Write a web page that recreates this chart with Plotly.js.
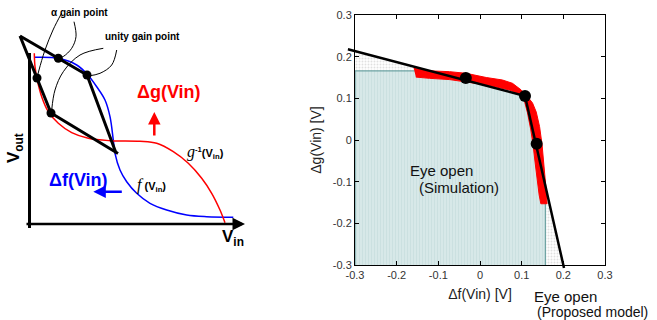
<!DOCTYPE html>
<html><head><meta charset="utf-8">
<script src="https://cdn.plot.ly/plotly-3.0.1.min.js"></script>
<style>html,body{margin:0;padding:0;background:#fff;}#chart{width:657px;height:320px;}</style>
</head><body><div id="chart"></div>
<script>
// ---------- Left schematic (arbitrary Vin / Vout units) ----------
const fVin  = [5.5, 28.8, 47.2, 57.5, 67.2, 75.5, 80.5, 83.8, 85.5, 90.5, 97.2, 107.2, 120.5, 137.2, 157.2, 177.2, 203.8];
const fVout = [166.7, 165.7, 159, 150, 137.3, 124, 107.3, 84, 70.7, 54, 42.3, 30.7, 20.7, 14, 9, 7.3, 6.7];
const gVin  = [4.8, 5.5, 7.8, 12.2, 18.8, 28.8, 42.2, 58.8, 80.5, 110.5, 127.2, 143.8, 158.8, 172.2, 182.2, 190.5, 195.5];
const gVout = [170.7, 157.3, 144, 127.3, 112.3, 100.7, 91.3, 85.7, 83.3, 82.7, 80.7, 72.3, 60.7, 45.7, 30.7, 14, 1.3];
const upperPathVin  = [-9.5, 57.5, 86.5];
const upperPathVout = [188, 149, 71];
const lowerPathVin  = [-9.5, 21.5, 88.5];
const lowerPathVout = [188, 111, 70.5];
const gainPtVin  = [28.8, 57.5, 7.5, 21.5];
const gainPtVout = [165.7, 149, 146, 111];
const leader1Vin = [32.2, 23.5, 15.5, 9.5, 7.5],  leader1Vout = [211, 194, 174, 154, 146];
const leader2Vin = [44.5, 46.5, 42.2, 33.8, 28.8], leader2Vout = [202.3, 187.3, 175.7, 167.5, 165.7];
const leader3Vin = [87.2, 82.2, 70.5, 58.5],       leader3Vout = [174, 159, 150.7, 148];
const leader4Vin = [73.8, 50.5, 33.8, 25.5, 22.2], leader4Vout = [175.7, 169, 152.3, 134, 114];

// ---------- Right chart (V) ----------
const modelLineX = [-0.317, 0.108, 0.2016];
const modelLineY = [0.218, 0.1056, -0.307];
const simEdgeX = [-0.3, -0.3, -0.156, -0.07, 0.02, 0.08, 0.105, 0.12, 0.135, 0.145, 0.157, 0.157];
const simEdgeY = [-0.3, 0.166, 0.166, 0.155, 0.14, 0.128, 0.108, 0.07, 0.0, -0.08, -0.155, -0.3];
const simOuterX = [-0.159, -0.121, -0.073, -0.033, 0.015, 0.054, 0.078, 0.099, 0.114, 0.126, 0.135, 0.143, 0.149, 0.154, 0.158, 0.161];
const simOuterY = [0.172, 0.166, 0.164, 0.160, 0.150, 0.144, 0.136, 0.120, 0.104, 0.089, 0.067, 0.032, -0.012, -0.060, -0.112, -0.153];
const simInnerX = [-0.154, -0.121, -0.073, -0.025, 0.023, 0.071, 0.094, 0.106, 0.114, 0.122, 0.128, 0.133, 0.137, 0.142, 0.146];
const simInnerY = [0.151, 0.148, 0.145, 0.138, 0.131, 0.120, 0.110, 0.096, 0.065, 0.024, -0.017, -0.060, -0.096, -0.132, -0.153];
const modelDotX = [-0.034, 0.108, 0.136];
const modelDotY = [0.149, 0.1056, -0.009];
const tickVals = [-0.3, -0.2, -0.1, 0, 0.1, 0.2, 0.3];
const tickText = ['-0.3', '-0.2', '-0.1', '0', '0.1', '0.2', '0.3'];

const FONT = 'Liberation Sans, Arial, sans-serif';

const traces = [];
// right panel
traces.push({x: modelLineX.concat([modelLineX[0]]), y: modelLineY.concat([modelLineY[modelLineY.length-1]]),
  xaxis:'x', yaxis:'y', mode:'lines', fill:'toself', line:{width:0, color:'rgba(0,0,0,0)'},
  fillcolor:'#f4f4f4', fillpattern:{shape:'.', bgcolor:'#ffffff', fgcolor:'#e0e0e0', size:3, solidity:0.3}, hoverinfo:'skip'});
traces.push({x: simEdgeX, y: simEdgeY, xaxis:'x', yaxis:'y', mode:'lines', fill:'toself',
  line:{width:1.3, color:'#6fa4a4'}, fillcolor:'#d5e6e6',
  fillpattern:{shape:'|', bgcolor:'#d7e8e8', fgcolor:'#cadfdf', size:3, solidity:0.3}, hoverinfo:'skip'});
traces.push({x: simOuterX.concat(simInnerX.slice().reverse()), y: simOuterY.concat(simInnerY.slice().reverse()),
  xaxis:'x', yaxis:'y', mode:'lines', fill:'toself', fillcolor:'#ff0000', line:{width:1, color:'#ff0000'}, hoverinfo:'skip'});
traces.push({x: modelDotX, y: modelDotY, xaxis:'x', yaxis:'y', mode:'markers', marker:{size:12, color:'#000'}, hoverinfo:'skip'});
// left panel
traces.push({x: fVin, y: fVout, xaxis:'x2', yaxis:'y2', mode:'lines', line:{color:'#0000ff', width:1.5, shape:'spline'}});
traces.push({x: gVin, y: gVout, xaxis:'x2', yaxis:'y2', mode:'lines', line:{color:'#ff0000', width:1.5, shape:'spline'}});
[[leader1Vin,leader1Vout],[leader2Vin,leader2Vout],[leader3Vin,leader3Vout],[leader4Vin,leader4Vout]].forEach(function(p){
  traces.push({x:p[0], y:p[1], xaxis:'x2', yaxis:'y2', mode:'lines', line:{color:'#000', width:1, shape:'spline'}});
});
traces.push({x: upperPathVin, y: upperPathVout, xaxis:'x2', yaxis:'y2', mode:'lines', line:{color:'#000', width:3}});
traces.push({x: lowerPathVin, y: lowerPathVout, xaxis:'x2', yaxis:'y2', mode:'lines', line:{color:'#000', width:3}});
traces.push({x: gainPtVin, y: gainPtVout, xaxis:'x2', yaxis:'y2', mode:'markers', marker:{size:9, color:'#000'}});
traces.push({x: [0, 0], y: [171, -4], xaxis:'x2', yaxis:'y2', mode:'lines', line:{color:'#000', width:3}});
// right panel model line on wider overlay so it runs past the frame
traces.push({x: modelLineX, y: modelLineY, xaxis:'x3', yaxis:'y3', mode:'lines', line:{color:'#000', width:2.5}, hoverinfo:'skip'});

const W = 657, H = 320;
const rAxis = {showgrid:false, zeroline:false, showline:true, linecolor:'#000', linewidth:1, mirror:'ticks',
  ticks:'inside', ticklen:4, tickcolor:'#000', tickvals:tickVals, ticktext:tickText,
  tickfont:{family:FONT, size:11, color:'#333'}, range:[-0.3, 0.3], fixedrange:true};
const hidden = {visible:false, showgrid:false, zeroline:false, fixedrange:true};

const layout = {
  width:W, height:H, margin:{l:0, r:0, t:0, b:0}, paper_bgcolor:'#fff', plot_bgcolor:'rgba(0,0,0,0)',
  showlegend:false, font:{family:FONT},
  xaxis: Object.assign({}, rAxis, {domain:[355/W, 605/W], anchor:'y',
    title:{text:'Δf(Vin) [V]', font:{family:FONT, size:14, color:'#222'}, standoff:8}}),
  yaxis: Object.assign({}, rAxis, {domain:[1-265/H, 1-15/H], anchor:'x',
    title:{text:'Δg(Vin) [V]', font:{family:FONT, size:14, color:'#222'}, standoff:7}}),
  xaxis2: Object.assign({}, hidden, {domain:[0, 260/W], range:[-29.5, 230.5], anchor:'y2'}),
  yaxis2: Object.assign({}, hidden, {domain:[0, 1], range:[-96, 224], anchor:'x2'}),
  xaxis3: Object.assign({}, hidden, {domain:[335/W, 625/W], range:[-0.3-20/416.67, 0.3+20/416.67], anchor:'y3'}),
  yaxis3: Object.assign({}, hidden, {domain:[1-275/H, 1-5/H], range:[-0.324, 0.324], anchor:'x3'}),
  annotations: [
    {xref:'x2', yref:'y2', x:215.5, y:0, ax:-4.5, ay:0, axref:'x2', ayref:'y2', text:'', showarrow:true,
      arrowhead:2, arrowsize:1, arrowwidth:2.5, arrowcolor:'#000', standoff:0, startstandoff:0},
    {xref:'x2', yref:'y2', x:124.8, y:112, ax:124.8, ay:87, axref:'x2', ayref:'y2', text:'', showarrow:true,
      arrowhead:2, arrowsize:1, arrowwidth:2.5, arrowcolor:'#ff0000', standoff:0, startstandoff:0},
    {xref:'x2', yref:'y2', x:63.8, y:32.3, ax:93.8, ay:32.3, axref:'x2', ayref:'y2', text:'', showarrow:true,
      arrowhead:2, arrowsize:1, arrowwidth:2.5, arrowcolor:'#0000ff', standoff:0, startstandoff:0},
    {xref:'x2', yref:'y2', x:49.5, y:211.5, text:'<b>α gain point</b>', showarrow:false, font:{family:FONT, size:10, color:'#000'}},
    {xref:'x2', yref:'y2', x:113, y:187.5, text:'<b>unity gain point</b>', showarrow:false, font:{family:FONT, size:10, color:'#000'}},
    {xref:'x2', yref:'y2', x:139.5, y:132, text:'<b>Δg(Vin)</b>', showarrow:false, font:{family:FONT, size:18, color:'#ff0000'}},
    {xref:'x2', yref:'y2', x:49, y:44, text:'<b>Δf(Vin)</b>', showarrow:false, font:{family:FONT, size:18, color:'#0000ff'}},
    {xref:'x2', yref:'y2', x:-14.5, y:76, text:'<b>V<sub>out</sub></b>', textangle:-90, showarrow:false, font:{family:FONT, size:17, color:'#000'}},
    {xref:'x2', yref:'y2', x:203, y:-14, text:'<b>V<sub>in</sub></b>', showarrow:false, font:{family:FONT, size:17, color:'#000'}},
    {xref:'x2', yref:'y2', x:155.5, y:72, xanchor:'left', text:'<span style="font-family:\'Liberation Serif\';font-style:italic;font-size:16px">g</span><sup><b>-1</b></sup><b>(V<sub>in</sub>)</b>', showarrow:false, font:{family:FONT, size:11, color:'#000'}},
    {xref:'x2', yref:'y2', x:105, y:39, xanchor:'left', text:'<span style="font-family:\'Liberation Serif\';font-style:italic;font-size:16px">f</span> <b>(V<sub>in</sub>)</b>', showarrow:false, font:{family:FONT, size:11, color:'#000'}},
    {xref:'x', yref:'y', x:-0.173, y:-0.072, xanchor:'left', text:'Eye open', showarrow:false, font:{family:FONT, size:15, color:'#111'}},
    {xref:'x', yref:'y', x:-0.152, y:-0.113, xanchor:'left', text:'(Simulation)', showarrow:false, font:{family:FONT, size:15, color:'#111'}},
    {xref:'paper', yref:'paper', x:532/W, y:1-296/H, xanchor:'left', yanchor:'middle', text:'Eye open', showarrow:false, font:{family:FONT, size:15, color:'#111'}},
    {xref:'paper', yref:'paper', x:535/W, y:1-312/H, xanchor:'left', yanchor:'middle', text:'(Proposed model)', showarrow:false, font:{family:FONT, size:14, color:'#111'}}
  ]
};
Plotly.newPlot('chart', traces, layout, {displayModeBar:false, staticPlot:true});
</script></body></html>
